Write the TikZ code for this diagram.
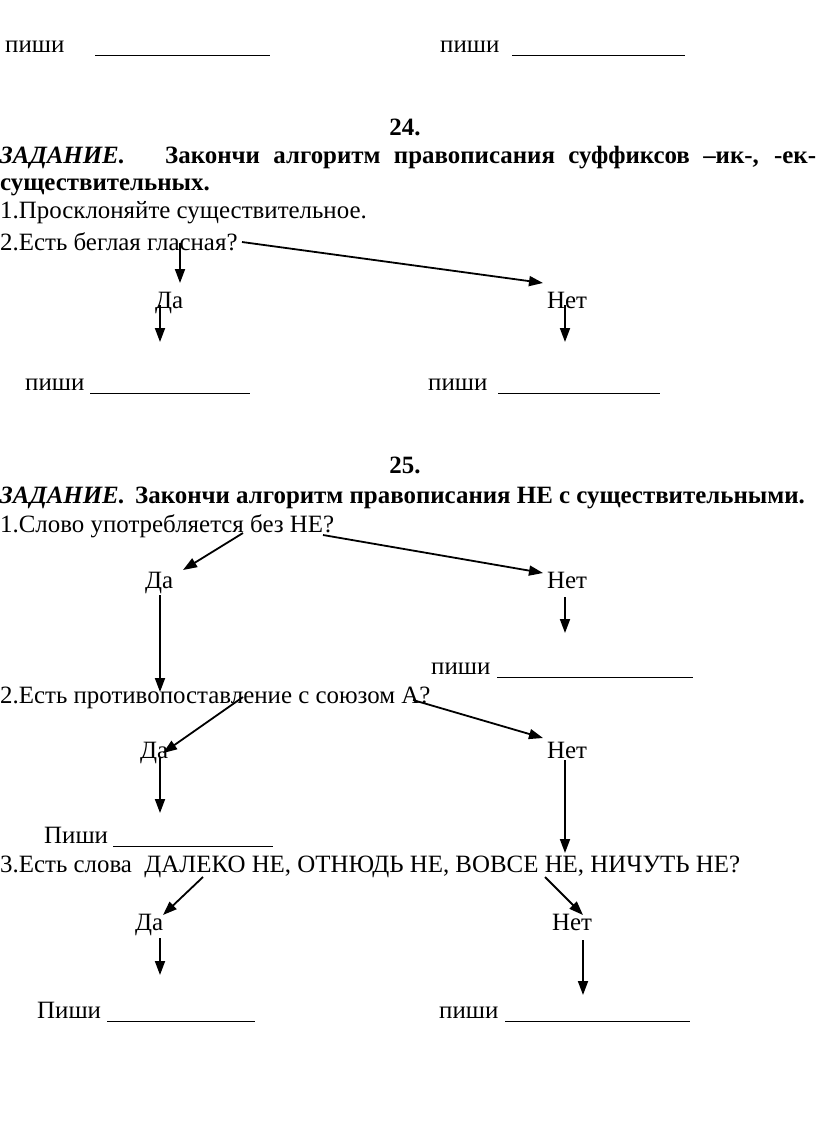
\documentclass[tikz,border=0pt]{standalone}
\usepackage{fontspec}
\setmainfont{Liberation Serif}
\usetikzlibrary{arrows.meta}
\newcommand{\myblank}[1]{\rule[-4bp]{#1}{1bp}}
\tikzset{
  txt/.style={inner sep=0pt, anchor=base west, font=\fontsize{25}{29}\selectfont},
  head/.style={inner sep=0pt, anchor=base west, font=\fontsize{25}{29}\selectfont\bfseries},
  headit/.style={inner sep=0pt, anchor=base west, font=\fontsize{25}{29}\selectfont\bfseries\itshape},
  arr/.style={line width=1.8bp, -{Triangle[width=10bp,length=14bp]}},
}
\begin{document}
\begin{tikzpicture}[x=1bp,y=-1bp]
\useasboundingbox[fill=white] (0,0) rectangle (816,1131);
% top blanks
\node[txt] (p1) at (5,52) {\makebox[90bp][l]{пиши}\myblank{175bp}};
\node[txt] (p2) at (440,52) {\makebox[72bp][l]{пиши}\myblank{173bp}};
% task 24
\node[head, anchor=base] (n24) at (405,135) {24.};
\node[headit] (z24) at (0,163) {ЗАДАНИЕ.};
\node[head] (t24) at (165,163) {\makebox[651bp][s]{Закончи алгоритм правописания суффиксов –ик-, -ек-}};
\node[head] (t24b) at (0,190) {существительных.};
\node[txt] (s1) at (0,218) {1.Просклоняйте существительное.};
\node[txt] (q2) at (0,250) {2.Есть беглая гласная?};
\node[txt] (da1) at (155,308) {Да};
\node[txt] (net1) at (547,308) {Нет};
\node[txt] (w1) at (25,390) {\makebox[65bp][l]{пиши}\myblank{160bp}};
\node[txt] (w2) at (428,390) {\makebox[70bp][l]{пиши}\myblank{162bp}};
% task 25
\node[head, anchor=base] (n25) at (405,473) {25.};
\node[headit] (z25) at (0,503) {ЗАДАНИЕ.};
\node[head] (t25) at (135,503) {Закончи алгоритм правописания НЕ с существительными.};
\node[txt] (q1) at (0,532) {1.Слово употребляется без НЕ?};
\node[txt] (da2) at (145,588) {Да};
\node[txt] (net2) at (547,588) {Нет};
\node[txt] (w3) at (431,674) {\makebox[66bp][l]{пиши}\myblank{196bp}};
\node[txt] (q22) at (0,703) {2.Есть противопоставление с союзом А?};
\node[txt] (da3) at (140,758) {Да};
\node[txt] (net3) at (547,758) {Нет};
\node[txt] (w4) at (44,843) {\makebox[69bp][l]{Пиши}\myblank{160bp}};
\node[txt] (q3) at (0,872) {3.Есть слова\ \ ДАЛЕКО НЕ, ОТНЮДЬ НЕ, ВОВСЕ НЕ, НИЧУТЬ НЕ?};
\node[txt] (da4) at (135,930) {Да};
\node[txt] (net4) at (552,930) {Нет};
\node[txt] (w5) at (37,1018) {\makebox[70bp][l]{Пиши}\myblank{148bp}};
\node[txt] (w6) at (439,1018) {\makebox[66bp][l]{пиши}\myblank{185bp}};
% arrow ends
\coordinate (a1s) at (180,243); \coordinate (a1e) at (180,283);
\coordinate (a2s) at (242,242); \coordinate (a2e) at (543,283);
\coordinate (a3s) at (160,305); \coordinate (a3e) at (160,342);
\coordinate (a4s) at (565,305); \coordinate (a4e) at (565,342);
\coordinate (a5s) at (243,533); \coordinate (a5e) at (183,570);
\coordinate (a6s) at (323,535); \coordinate (a6e) at (543,573);
\coordinate (a7s) at (160,595); \coordinate (a7e) at (160,692);
\coordinate (a8s) at (565,597); \coordinate (a8e) at (565,633);
\coordinate (a9s) at (243,697); \coordinate (a9e) at (163,753);
\coordinate (a10s) at (413,700); \coordinate (a10e) at (543,738);
\coordinate (a11s) at (160,758); \coordinate (a11e) at (160,813);
\coordinate (a12s) at (565,760); \coordinate (a12e) at (565,853);
\coordinate (a13s) at (203,877); \coordinate (a13e) at (163,915);
\coordinate (a14s) at (545,877); \coordinate (a14e) at (583,915);
\coordinate (a15s) at (160,938); \coordinate (a15e) at (160,975);
\coordinate (a16s) at (583,940); \coordinate (a16e) at (583,995);
\foreach \i in {1,...,16} \draw[arr] (a\i s) -- (a\i e);
\end{tikzpicture}
\end{document}
